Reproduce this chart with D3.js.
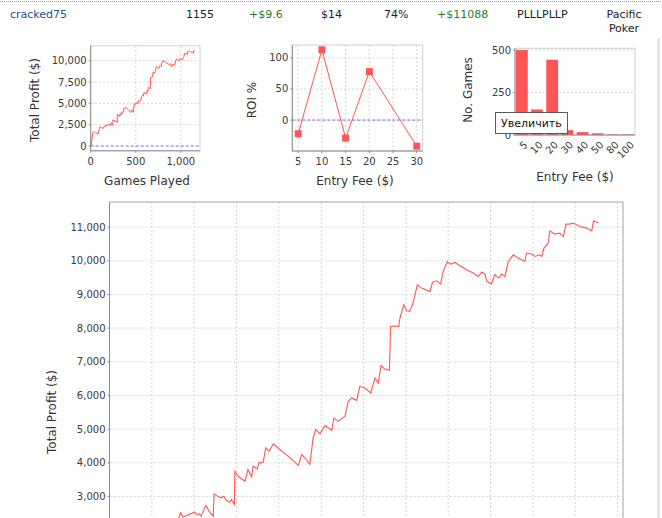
<!DOCTYPE html>
<html><head><meta charset="utf-8">
<script src="https://cdn.jsdelivr.net/npm/d3@7"></script>
<style>
html,body{margin:0;padding:0;background:#fff;overflow:hidden;}
svg{display:block;font-family:"DejaVu Sans",sans-serif;}
</style></head><body>
<svg id="c" width="662" height="518"></svg>
<script>
// ---------- DATA ----------
const headerValues = ["cracked75", "1155", "+$9.6", "$14", "74%", "+$11088", "PLLLPLLP", "Pacific Poker"];

// cumulative profit: [games played, total profit $]
const profitSeries = [
  [0,0],[8,250],[15,900],[25,1600],[35,1700],[50,1550],[70,1500],[85,1450],[95,2000],[105,2250],
  [120,2150],[135,2050],[150,2300],[160,2250],[168,2514],[174,2396],[201,2532],[206,2464],[212,2485],
  [216,2414],[228,2731],[235,2562],[245,2414],[247,3078],[257,2989],[263,2959],[270,3007],[276,2888],
  [284,2829],[288,2909],[295,2761],[296,3749],[304,3600],[320,3452],[327,3799],[336,3583],[339,3897],
  [349,3820],[353,3998],[363,4016],[369,4443],[377,4342],[387,4562],[396,4461],[417,4244],[430,4117],
  [446,3918],[454,4244],[465,4096],[473,3947],[481,4740],[487,4986],[497,4867],[509,5105],[525,4965],
  [530,5333],[540,5232],[556,5381],[564,5826],[572,5926],[584,5855],[591,6271],[603,6223],[617,6075],
  [627,6520],[635,6372],[641,6885],[650,6787],[661,6745],[664,8051],[674,8063],[683,8051],[686,8300],
  [695,8695],[702,8517],[709,8496],[717,8745],[727,9288],[737,9190],[757,9089],[763,9368],[773,9407],
  [782,9309],[788,9683],[798,9979],[806,9902],[816,9950],[824,9881],[843,9733],[859,9635],[871,9534],
  [879,9665],[887,9606],[891,9386],[902,9309],[910,9585],[920,9487],[926,9606],[934,9534],[942,9979],
  [954,10178],[965,10080],[981,9979],[985,10229],[997,10199],[1005,10128],[1015,10178],[1021,10128],
  [1026,10377],[1036,10525],[1040,10890],[1052,10792],[1064,10822],[1072,10721],[1078,11089],
  [1087,11089],[1095,11119],[1111,11018],[1127,10970],[1139,10890],[1143,11187],[1155,11119]
];
const totalGames = 1155;

const roiFees = [5, 10, 15, 20, 30];
const roiValues = [-22, 113, -29, 78, -42];

const feeCategories = ["5", "10", "20", "30", "40", "50", "80", "100"];
const gameCounts = [500, 150, 443, 29, 17, 10, 3, 3];

const bigYTicks = [0, 1000, 2000, 3000, 4000, 5000, 6000, 7000, 8000, 9000, 10000, 11000];
const smallYTicks = [0, 2500, 5000, 7500, 10000];
const smallXTicks = [0, 500, 1000];
const roiXTicks = [5, 10, 15, 20, 25, 30];
const roiYTicks = [0, 50, 100];
const countYTicks = [0, 250, 500];

const tooltipText = "Увеличить";

// ---------- DRAW ----------
const W = 662, H = 518;
const svg = d3.select("#c");
const RED = "#ff5555";
const GRID = "#d4d4d4";
const AXIS = "#8c8c8c";
const TICKTXT = "#3a3a3a";
const fmt = d3.format(",");

// top dotted line
svg.append("line").attr("x1",0).attr("x2",W).attr("y1",1.5).attr("y2",1.5)
  .attr("stroke","#9a9a9a").attr("stroke-dasharray","1,1");

// header row
const headerX = [10, 186, 249, 321, 384, 437, 517, 624];
const headerColor = ["#1f4f8f","#222","#2a7a2a","#222","#222","#2a7a2a","#222","#222"];
headerValues.forEach((t, i) => {
  if (i === headerValues.length - 1) {
    const parts = t.split(" ");
    parts.forEach((p, j) => svg.append("text").attr("x", headerX[i]).attr("y", 18 + j*13.5)
      .attr("text-anchor","middle").attr("font-size",11).attr("fill",headerColor[i]).text(p));
  } else {
    svg.append("text").attr("x", headerX[i]).attr("y", 18).attr("font-size",11)
      .attr("fill", headerColor[i]).text(t);
  }
});

// right light border
svg.append("line").attr("x1",658.5).attr("x2",658.5).attr("y1",38).attr("y2",H)
  .attr("stroke","#dcdcdc").attr("stroke-width",2);

function yExtentPadded(vals) {
  const mn = Math.min(0, d3.min(vals)), mx = d3.max(vals);
  const r = mx - mn;
  return [mn - 0.05*r, mx + 0.05*r];
}
function frame(g, x0, x1, y0, y1) {
  g.append("rect").attr("x",x0).attr("y",y1).attr("width",x1-x0).attr("height",y0-y1)
    .attr("fill","#fff").attr("stroke","#cfcfcf").attr("stroke-width",1);
}
function axesLines(g, x0, x1, y0, y1) {
  g.append("line").attr("x1",x0).attr("x2",x0).attr("y1",y1).attr("y2",y0).attr("stroke",AXIS);
  g.append("line").attr("x1",x0).attr("x2",x1).attr("y1",y0).attr("y2",y0).attr("stroke",AXIS);
}
function hGrid(g, ys, ticks, x0, x1) {
  ticks.forEach(t => g.append("line").attr("x1",x0).attr("x2",x1).attr("y1",ys(t)).attr("y2",ys(t))
    .attr("stroke",GRID).attr("stroke-dasharray","2,2"));
}
function vGrid(g, xs, ticks, y0, y1) {
  ticks.forEach(t => g.append("line").attr("x1",xs(t)).attr("x2",xs(t)).attr("y1",y1).attr("y2",y0)
    .attr("stroke",GRID).attr("stroke-dasharray","2,2"));
}
function yTicks(g, ys, ticks, x0, f) {
  ticks.forEach(t => {
    g.append("line").attr("x1",x0-2).attr("x2",x0).attr("y1",ys(t)).attr("y2",ys(t)).attr("stroke",AXIS);
    if (ys(t) + 6 < H) {
      g.append("text").attr("x",x0-4).attr("y",ys(t)).attr("dy","0.35em").attr("text-anchor","end")
        .attr("font-size",10).attr("fill",TICKTXT).text(f(t));
    }
  });
}
function xTicks(g, xs, ticks, y0, f) {
  ticks.forEach(t => {
    g.append("line").attr("x1",xs(t)).attr("x2",xs(t)).attr("y1",y0).attr("y2",y0+2).attr("stroke",AXIS);
    if (y0 + 14 < H) {
      g.append("text").attr("x",xs(t)).attr("y",y0+14).attr("text-anchor","middle")
        .attr("font-size",10).attr("fill",TICKTXT).text(f(t));
    }
  });
}
function yLabel(g, x, y, t) {
  g.append("text").attr("transform",`translate(${x},${y}) rotate(-90)`).attr("text-anchor","middle")
    .attr("font-size",12).attr("fill","#333").text(t);
}
function xLabel(g, x, y, t) {
  g.append("text").attr("x",x).attr("y",y).attr("text-anchor","middle")
    .attr("font-size",12).attr("fill","#333").text(t);
}

const profitVals = profitSeries.map(d => d[1]);
const profitDomain = yExtentPadded(profitVals);
const gameDomain = [0, totalGames * 1.05];

// ---- Small chart 1: profit ----
{
  const g = svg.append("g");
  const x0 = 90.7, x1 = 200, y0 = 150.8, y1 = 45.8;
  const xs = d3.scaleLinear().domain(gameDomain).range([x0, x1]);
  const ys = d3.scaleLinear().domain(profitDomain).range([y0, y1]);
  frame(g, x0, x1, y0, y1);
  hGrid(g, ys, smallYTicks.filter(t => t > 0), x0, x1);
  vGrid(g, xs, smallXTicks.filter(t => t > 0), y0, y1);
  g.append("line").attr("x1",x0).attr("x2",x1).attr("y1",ys(0)).attr("y2",ys(0))
    .attr("stroke","#6b6bff").attr("stroke-dasharray","3,2");
  g.append("path").datum(profitSeries).attr("fill","none").attr("stroke",RED).attr("stroke-width",1)
    .attr("d", d3.line().x(d => xs(d[0])).y(d => ys(d[1])));
  axesLines(g, x0, x1, y0, y1);
  yTicks(g, ys, smallYTicks, x0, fmt);
  xTicks(g, xs, smallXTicks, y0, fmt);
  yLabel(g, 39, 100, "Total Profit ($)");
  xLabel(g, 147, 185, "Games Played");
}

// ---- Small chart 2: ROI ----
{
  const g = svg.append("g");
  const x0 = 292.3, x1 = 422.7, y0 = 151, y1 = 45;
  const r = d3.max(roiFees) - d3.min(roiFees);
  const xs = d3.scaleLinear().domain([d3.min(roiFees) - 0.05*r, d3.max(roiFees) + 0.05*r]).range([x0, x1]);
  const ys = d3.scaleLinear().domain(yExtentPadded(roiValues)).range([y0, y1]);
  frame(g, x0, x1, y0, y1);
  hGrid(g, ys, roiYTicks, x0, x1);
  vGrid(g, xs, roiXTicks, y0, y1);
  g.append("line").attr("x1",x0).attr("x2",x1).attr("y1",ys(0)).attr("y2",ys(0))
    .attr("stroke","#6b6bff").attr("stroke-dasharray","3,2");
  const pts = roiFees.map((f, i) => [f, roiValues[i]]);
  g.append("path").datum(pts).attr("fill","none").attr("stroke",RED).attr("stroke-width",1)
    .attr("d", d3.line().x(d => xs(d[0])).y(d => ys(d[1])));
  g.selectAll("rect.m").data(pts).enter().append("rect").attr("class","m")
    .attr("x", d => xs(d[0]) - 3.5).attr("y", d => ys(d[1]) - 3.5)
    .attr("width",7).attr("height",7).attr("fill",RED);
  axesLines(g, x0, x1, y0, y1);
  yTicks(g, ys, roiYTicks, x0, d => d);
  xTicks(g, xs, roiXTicks, y0, d => d);
  yLabel(g, 256, 100, "ROI %");
  xLabel(g, 355, 185, "Entry Fee ($)");
}

// ---- Small chart 3: games per entry fee ----
{
  const g = svg.append("g");
  const x0 = 515, x1 = 635, y0 = 135, y1 = 48.3;
  const xs = d3.scaleBand().domain(feeCategories).range([x0, x1]).paddingInner(0.22).paddingOuter(0.06);
  const ys = d3.scaleLinear().domain([0, d3.max(gameCounts) * 1.02]).range([y0, y1]);
  frame(g, x0, x1, y0, y1);
  hGrid(g, ys, countYTicks.filter(t => t > 0), x0, x1);
  g.selectAll("rect.b").data(feeCategories).enter().append("rect").attr("class","b")
    .attr("x", d => xs(d)).attr("width", xs.bandwidth())
    .attr("y", (d, i) => ys(gameCounts[i])).attr("height", (d, i) => y0 - ys(gameCounts[i]))
    .attr("fill", RED);
  axesLines(g, x0, x1, y0, y1);
  yTicks(g, ys, countYTicks, x0, d => d);
  feeCategories.forEach(c => {
    const cx = xs(c) + xs.bandwidth()/2;
    g.append("text").attr("transform",`translate(${cx+4},${y0+8}) rotate(-45)`)
      .attr("text-anchor","end").attr("dy","0.35em").attr("font-size",10).attr("fill",TICKTXT).text(c);
  });
  yLabel(g, 472, 90, "No. Games");
  xLabel(g, 575, 181, "Entry Fee ($)");

  // tooltip
  g.append("rect").attr("x",495.5).attr("y",112.5).attr("width",72).attr("height",21)
    .attr("fill","#fff").attr("stroke","#5a5a5a");
  g.append("text").attr("x",501).attr("y",123).attr("dy","0.35em").attr("font-size",11)
    .attr("fill","#111").text(tooltipText);
}

// ---- Big chart ----
{
  const g = svg.append("g");
  const x0 = 109.5, x1 = 623, y0 = 616.3, y1 = 202;
  const xs = d3.scaleLinear().domain(gameDomain).range([x0, x1]);
  const ys = d3.scaleLinear().domain(profitDomain).range([y0, y1]);
  const xt = d3.range(0, 1201, 100);
  frame(g, x0, x1, y0, y1);
  hGrid(g, ys, bigYTicks, x0, x1);
  vGrid(g, xs, xt.filter(t => t > 0), y0, y1);
  g.append("line").attr("x1",x0).attr("x2",x1).attr("y1",ys(0)).attr("y2",ys(0))
    .attr("stroke","#6b6bff").attr("stroke-dasharray","3,2");
  g.append("path").datum(profitSeries).attr("fill","none").attr("stroke",RED).attr("stroke-width",1.1)
    .attr("d", d3.line().x(d => xs(d[0])).y(d => ys(d[1])));
  g.append("line").attr("x1",x0).attr("x2",x1).attr("y1",y1).attr("y2",y1).attr("stroke","#c8c8c8").attr("stroke-width",1.5);
  g.append("line").attr("x1",x1).attr("x2",x1).attr("y1",y1).attr("y2",y0).attr("stroke","#c8c8c8").attr("stroke-width",1.5);
  axesLines(g, x0, x1, y0, y1);
  yTicks(g, ys, bigYTicks, x0, fmt);
  xTicks(g, xs, xt, y0, fmt);
  yLabel(g, 56, 412, "Total Profit ($)");
}
</script>
</body></html>
